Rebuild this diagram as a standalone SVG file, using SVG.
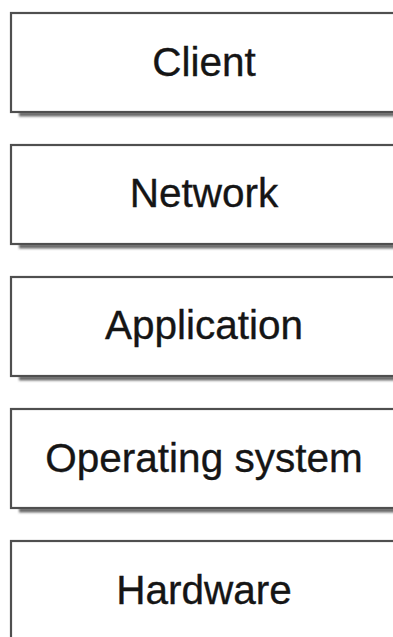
<svg xmlns="http://www.w3.org/2000/svg" width="393" height="637" viewBox="0 0 393 637">
  <defs>
    <filter id="soft" x="-5%" y="-50%" width="110%" height="200%">
      <feGaussianBlur stdDeviation="0.9"/>
    </filter>
    <filter id="edge" x="-5%" y="-5%" width="110%" height="110%">
      <feGaussianBlur stdDeviation="0.45"/>
    </filter>
  </defs>
  <style>
    .box { fill: #ffffff; stroke: #505050; stroke-width: 2.2; }
    .shadow { fill: #6a6a6a; }
    .label { font-family: "Liberation Sans", Arial, Helvetica, sans-serif; font-size: 40.5px; fill: #151515; stroke: #151515; stroke-width: 0.35; text-anchor: middle; }
  </style>
  <rect width="393" height="637" fill="#ffffff"/>

  <g id="client">
    <rect class="shadow" x="19" y="112" width="380" height="4.5" filter="url(#soft)"/>
    <rect class="box" x="11" y="13" width="386" height="99" filter="url(#edge)"/>
    <text class="label" x="204" y="76">Client</text>
  </g>

  <g id="network">
    <rect class="shadow" x="19" y="244" width="380" height="4.5" filter="url(#soft)"/>
    <rect class="box" x="11" y="145" width="386" height="99" filter="url(#edge)"/>
    <text class="label" x="204" y="207">Network</text>
  </g>

  <g id="application">
    <rect class="shadow" x="19" y="376" width="380" height="4.5" filter="url(#soft)"/>
    <rect class="box" x="11" y="277" width="386" height="99" filter="url(#edge)"/>
    <text class="label" x="204" y="339">Application</text>
  </g>

  <g id="operating-system">
    <rect class="shadow" x="19" y="508" width="380" height="4.5" filter="url(#soft)"/>
    <rect class="box" x="11" y="409" width="386" height="99" filter="url(#edge)"/>
    <text class="label" x="204" y="472">Operating system</text>
  </g>

  <g id="hardware">
    <rect class="box" x="11" y="541" width="386" height="99" filter="url(#edge)"/>
    <text class="label" x="204" y="604">Hardware</text>
  </g>

  <g id="connectors"></g>
</svg>
